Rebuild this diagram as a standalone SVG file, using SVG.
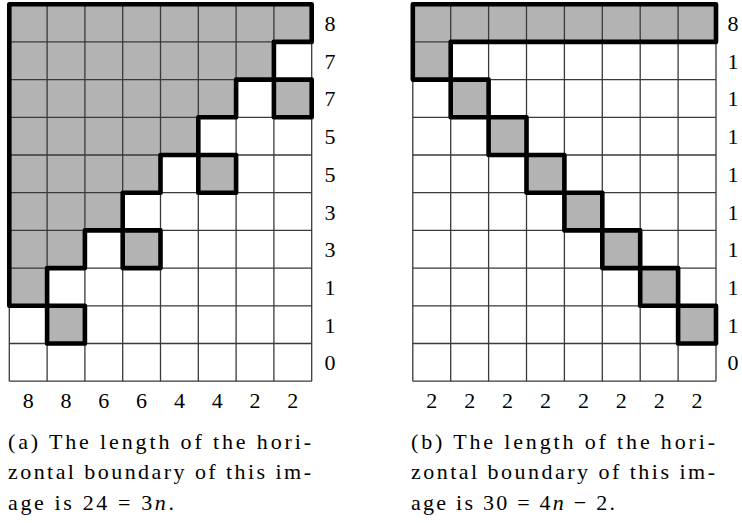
<svg xmlns="http://www.w3.org/2000/svg" width="742" height="523" viewBox="0 0 742 523">
<style>
.bg{fill:#ffffff}
.fill{fill:#b3b3b3;stroke:none}
.thin{stroke:#3a3a3a;stroke-width:1.3;fill:none}
.thick{stroke:#000000;stroke-width:4.6;fill:none;stroke-linejoin:round;stroke-linecap:round}
.num{font-family:'Liberation Serif','Times New Roman','DejaVu Serif',serif;font-size:22px;fill:#000;text-anchor:middle}
.cap{font-family:'Liberation Serif','Times New Roman','DejaVu Serif',serif;font-size:22px;fill:#000}
.it{font-style:italic}
</style>
<rect class="bg" x="0" y="0" width="742" height="523"/>

<g id="grid-a">
  <g id="grid-a-fill">
    <polygon class="fill" points="9.3,4.2 311.7,4.2 311.7,41.9 273.9,41.9 273.9,79.6 236.1,79.6 236.1,117.3 198.3,117.3 198.3,155 160.5,155 160.5,192.7 122.7,192.7 122.7,230.4 84.9,230.4 84.9,268.1 47.1,268.1 47.1,305.8 9.3,305.8"/>
    <rect class="fill" x="273.9" y="79.6" width="37.8" height="37.7"/>
    <rect class="fill" x="198.3" y="155" width="37.8" height="37.7"/>
    <rect class="fill" x="122.7" y="230.4" width="37.8" height="37.7"/>
    <rect class="fill" x="47.1" y="305.8" width="37.8" height="37.7"/>
  </g>
  <g id="grid-a-lines" class="thin">
    <path d="M9.3 4.2V381.2M47.1 4.2V381.2M84.9 4.2V381.2M122.7 4.2V381.2M160.5 4.2V381.2M198.3 4.2V381.2M236.1 4.2V381.2M273.9 4.2V381.2M311.7 4.2V381.2"/>
    <path d="M9.3 4.2H311.7M9.3 41.9H311.7M9.3 79.6H311.7M9.3 117.3H311.7M9.3 155H311.7M9.3 192.7H311.7M9.3 230.4H311.7M9.3 268.1H311.7M9.3 305.8H311.7M9.3 343.5H311.7M9.3 381.2H311.7"/>
  </g>
  <g id="grid-a-outline" class="thick">
    <polygon points="9.3,4.2 311.7,4.2 311.7,41.9 273.9,41.9 273.9,79.6 236.1,79.6 236.1,117.3 198.3,117.3 198.3,155 160.5,155 160.5,192.7 122.7,192.7 122.7,230.4 84.9,230.4 84.9,268.1 47.1,268.1 47.1,305.8 9.3,305.8"/>
    <rect x="273.9" y="79.6" width="37.8" height="37.7"/>
    <rect x="198.3" y="155" width="37.8" height="37.7"/>
    <rect x="122.7" y="230.4" width="37.8" height="37.7"/>
    <rect x="47.1" y="305.8" width="37.8" height="37.7"/>
  </g>
  <g id="grid-a-rowlabels" class="num">
    <text x="330" y="31">8</text>
    <text x="330" y="68.7">7</text>
    <text x="330" y="106.4">7</text>
    <text x="330" y="144.1">5</text>
    <text x="330" y="181.8">5</text>
    <text x="330" y="219.5">3</text>
    <text x="330" y="257.2">3</text>
    <text x="330" y="294.9">1</text>
    <text x="330" y="332.6">1</text>
    <text x="330" y="370.3">0</text>
  </g>
  <g id="grid-a-collabels" class="num">
    <text x="28.2" y="408">8</text>
    <text x="66" y="408">8</text>
    <text x="103.8" y="408">6</text>
    <text x="141.6" y="408">6</text>
    <text x="179.4" y="408">4</text>
    <text x="217.2" y="408">4</text>
    <text x="255" y="408">2</text>
    <text x="292.8" y="408">2</text>
  </g>
  <g id="caption-a" class="cap">
    <text x="8" y="448.5" textLength="303">(a) The length of the hori-</text>
    <text x="8" y="479" textLength="303">zontal boundary of this im-</text>
    <text x="8" y="509.5" textLength="166">age is 24 = 3<tspan class="it">n</tspan>.</text>
  </g>
</g>

<g id="grid-b">
  <g id="grid-b-fill">
    <polygon class="fill" points="412.8,4.2 716,4.2 716,41.9 450.7,41.9 450.7,79.6 412.8,79.6"/>
    <rect class="fill" x="450.7" y="79.6" width="37.9" height="37.7"/>
    <rect class="fill" x="488.6" y="117.3" width="37.9" height="37.7"/>
    <rect class="fill" x="526.5" y="155" width="37.9" height="37.7"/>
    <rect class="fill" x="564.4" y="192.7" width="37.9" height="37.7"/>
    <rect class="fill" x="602.3" y="230.4" width="37.9" height="37.7"/>
    <rect class="fill" x="640.2" y="268.1" width="37.9" height="37.7"/>
    <rect class="fill" x="678.1" y="305.8" width="37.9" height="37.7"/>
  </g>
  <g id="grid-b-lines" class="thin">
    <path d="M412.8 4.2V381.2M450.7 4.2V381.2M488.6 4.2V381.2M526.5 4.2V381.2M564.4 4.2V381.2M602.3 4.2V381.2M640.2 4.2V381.2M678.1 4.2V381.2M716 4.2V381.2"/>
    <path d="M412.8 4.2H716M412.8 41.9H716M412.8 79.6H716M412.8 117.3H716M412.8 155H716M412.8 192.7H716M412.8 230.4H716M412.8 268.1H716M412.8 305.8H716M412.8 343.5H716M412.8 381.2H716"/>
  </g>
  <g id="grid-b-outline" class="thick">
    <polygon points="412.8,4.2 716,4.2 716,41.9 450.7,41.9 450.7,79.6 412.8,79.6"/>
    <rect x="450.7" y="79.6" width="37.9" height="37.7"/>
    <rect x="488.6" y="117.3" width="37.9" height="37.7"/>
    <rect x="526.5" y="155" width="37.9" height="37.7"/>
    <rect x="564.4" y="192.7" width="37.9" height="37.7"/>
    <rect x="602.3" y="230.4" width="37.9" height="37.7"/>
    <rect x="640.2" y="268.1" width="37.9" height="37.7"/>
    <rect x="678.1" y="305.8" width="37.9" height="37.7"/>
  </g>
  <g id="grid-b-rowlabels" class="num">
    <text x="733" y="31">8</text>
    <text x="733" y="68.7">1</text>
    <text x="733" y="106.4">1</text>
    <text x="733" y="144.1">1</text>
    <text x="733" y="181.8">1</text>
    <text x="733" y="219.5">1</text>
    <text x="733" y="257.2">1</text>
    <text x="733" y="294.9">1</text>
    <text x="733" y="332.6">1</text>
    <text x="733" y="370.3">0</text>
  </g>
  <g id="grid-b-collabels" class="num">
    <text x="431.8" y="408">2</text>
    <text x="469.7" y="408">2</text>
    <text x="507.6" y="408">2</text>
    <text x="545.5" y="408">2</text>
    <text x="583.4" y="408">2</text>
    <text x="621.3" y="408">2</text>
    <text x="659.2" y="408">2</text>
    <text x="697.1" y="408">2</text>
  </g>
  <g id="caption-b" class="cap">
    <text x="411" y="448.5" textLength="304">(b) The length of the hori-</text>
    <text x="411" y="479" textLength="304">zontal boundary of this im-</text>
    <text x="411" y="509.5" textLength="204">age is 30 = 4<tspan class="it">n</tspan> − 2.</text>
  </g>
</g>
</svg>
